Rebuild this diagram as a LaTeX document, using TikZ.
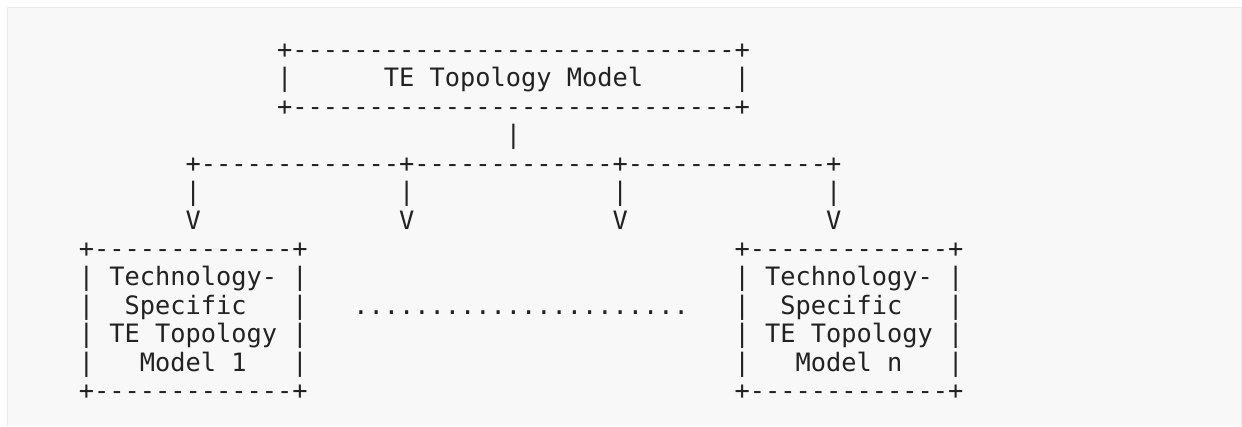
\documentclass[tikz,border=0pt]{standalone}
\usepackage{fontspec}
\setmonofont{DejaVu Sans Mono}
\ExplSyntaxOn
\NewDocumentCommand\rep{mm}{\prg_replicate:nn{#1}{#2}}
\ExplSyntaxOff
\definecolor{ink}{RGB}{34,34,34}
\definecolor{panel}{RGB}{248,248,248}
\definecolor{panelborder}{RGB}{234,234,234}
\newcommand\ascline[4]{\node[asc] (#1) at ({78.9+15.25*#2},{58.2+28.47*#3}) {#4};}
\begin{document}
\begin{tikzpicture}[x=1pt,y=-1pt,
  asc/.style={inner sep=0pt,outer sep=0pt,anchor=base west,text=ink,
    font=\ttfamily\fontsize{25.33pt}{28.47pt}\selectfont}]
\useasboundingbox (0,0) rectangle (1242,426);
\fill[white] (0,0) rectangle (1242,426);
\fill[panel] (7.5,7.5) rectangle (1241,426);
\draw[panelborder,line width=1pt] (7.5,426) -- (7.5,7.5) -- (1241,7.5) -- (1241,426);
% top box
\ascline{topA}{13}{0}{+\rep{29}{-}+}
\ascline{topB}{13}{1}{|\rep{6}{~}TE~Topology~Model\rep{6}{~}|}
\ascline{topC}{13}{2}{+\rep{29}{-}+}
\ascline{stem}{28}{3}{|}
% fan-out
\ascline{fan}{7}{4}{+\rep{13}{-}+\rep{13}{-}+\rep{13}{-}+}
\ascline{p1}{7}{5}{|}
\ascline{p2}{21}{5}{|}
\ascline{p3}{35}{5}{|}
\ascline{p4}{49}{5}{|}
\ascline{v1}{7}{6}{V}
\ascline{v2}{21}{6}{V}
\ascline{v3}{35}{6}{V}
\ascline{v4}{49}{6}{V}
% left box
\ascline{lA}{0}{7}{+\rep{13}{-}+}
\ascline{lB}{0}{8}{|~Technology-~|}
\ascline{lC}{0}{9}{|~~Specific~~~|}
\ascline{lD}{0}{10}{|~TE~Topology~|}
\ascline{lE}{0}{11}{|~~~Model~1~~~|}
\ascline{lF}{0}{12}{+\rep{13}{-}+}
% dots
\ascline{dots}{18}{9}{\rep{22}{.}}
% right box
\ascline{rA}{43}{7}{+\rep{13}{-}+}
\ascline{rB}{43}{8}{|~Technology-~|}
\ascline{rC}{43}{9}{|~~Specific~~~|}
\ascline{rD}{43}{10}{|~TE~Topology~|}
\ascline{rE}{43}{11}{|~~~Model~n~~~|}
\ascline{rF}{43}{12}{+\rep{13}{-}+}
\end{tikzpicture}
\end{document}
